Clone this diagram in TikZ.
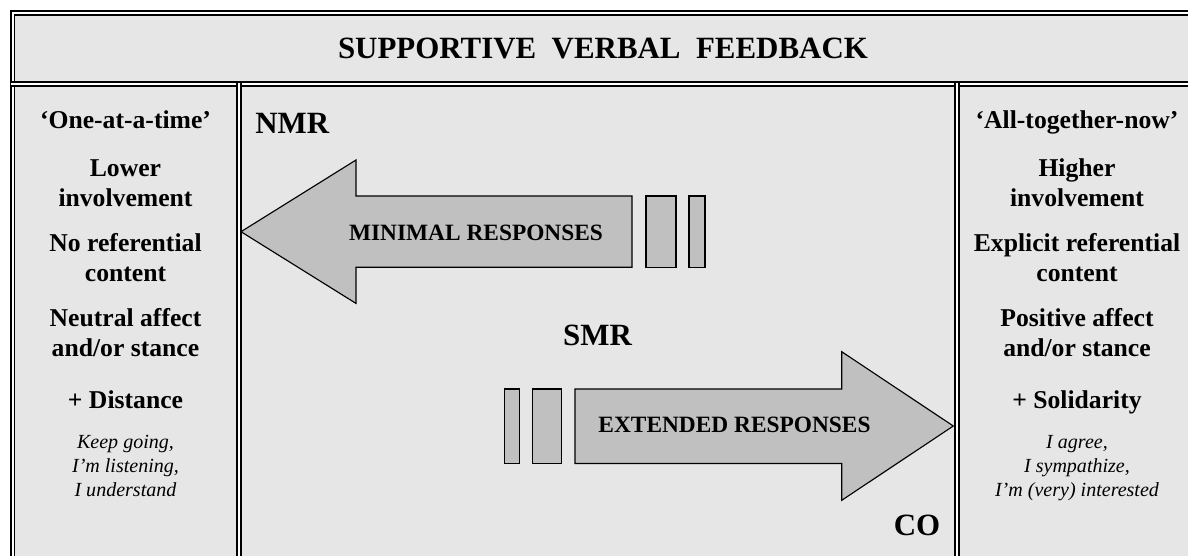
\documentclass[tikz,border=0pt]{standalone}
\usepackage{fontspec}
\setmainfont{Liberation Serif}
\usetikzlibrary{positioning}

\definecolor{panelgray}{HTML}{E6E6E6}
\definecolor{arrowgray}{HTML}{C0C0C0}

\begin{document}
\begin{tikzpicture}[
    frame/.style={draw=black, line width=0.04cm, double=white, double distance=0.04cm},
    heading/.style={inner sep=0pt, font=\fontsize{17.6}{21}\selectfont\bfseries},
    feature/.style={align=center, inner sep=0pt, anchor=base, font=\fontsize{14.6}{16.8}\selectfont\bfseries},
    example/.style={align=center, inner sep=0pt, anchor=base, font=\fontsize{11.4}{13.8}\selectfont\itshape},
    arrowshape/.style={draw=black, line width=0.65pt, fill=arrowgray, line join=miter},
    bar/.style={arrowshape, line width=0.9pt},
    arrowlabel/.style={inner sep=0pt, font=\fontsize{13.3}{16}\selectfont\bfseries}
]
\useasboundingbox (0,0) rectangle (23.76,-11.1);
\clip (0,0) rectangle (23.76,-11.1);

% Table
\fill[panelgray] (0.25,-0.25) rectangle (23.92,-11.3);
\draw[frame] (0.25,-0.25) rectangle (23.92,-11.3);
\draw[frame] (0.23,-1.676) -- (23.92,-1.676);
\draw[frame] (4.78,-1.656) -- (4.78,-11.3);
\draw[frame] (19.146,-1.656) -- (19.146,-11.3);

% Title
\node[heading] (title) at (12.06,-0.97) {SUPPORTIVE\ \ VERBAL\ \ FEEDBACK};

% Left column (base = last line)
\node[feature] (onetime) at (2.51,-2.56) {‘One-at-a-time’};
\node[feature] (lower) at (2.51,-4.13) {Lower\\involvement};
\node[feature] (noref) at (2.51,-5.63) {No referential\\content};
\node[feature] (neutral) at (2.51,-7.13) {Neutral affect\\and/or stance};
\node[feature] (distance) at (2.51,-8.16) {+ Distance};
\node[example] (keepgoing) at (2.51,-9.93) {Keep going,\\I’m listening,\\I understand};

% Right column
\node[feature] (alltogether) at (21.54,-2.56) {‘All-together-now’};
\node[feature] (higher) at (21.54,-4.13) {Higher\\involvement};
\node[feature] (explicit) at (21.54,-5.63) {Explicit referential\\content};
\node[feature] (positive) at (21.54,-7.13) {Positive affect\\and/or stance};
\node[feature] (solidarity) at (21.54,-8.16) {+ Solidarity};
\node[example] (iagree) at (21.54,-9.93) {I agree,\\I sympathize,\\I’m (very) interested};

% Middle column
\node[heading, anchor=base west] (nmr) at (5.1,-2.666) {NMR};
\node[heading, anchor=base] (smr) at (11.95,-6.9) {SMR};
\node[heading, anchor=base] (co) at (18.34,-10.7) {CO};

% Minimal responses
\draw[arrowshape] (4.82,-4.634) -- (7.12,-3.2) -- (7.12,-3.92) -- (12.64,-3.92)
    -- (12.64,-5.346) -- (7.12,-5.346) -- (7.12,-6.068) -- cycle;
\draw[bar] (12.914,-3.92) rectangle (13.52,-5.346);
\draw[bar] (13.78,-3.92) rectangle (14.094,-5.346);
\node[arrowlabel] (minimal) at (9.52,-4.66) {MINIMAL RESPONSES};

% Extended responses
\draw[arrowshape] (11.5,-7.78) -- (16.834,-7.78) -- (16.834,-7.034) -- (19.066,-8.52)
    -- (16.834,-10.006) -- (16.834,-9.27) -- (11.5,-9.27) -- cycle;
\draw[bar] (10.086,-7.78) rectangle (10.386,-9.27);
\draw[bar] (10.654,-7.78) rectangle (11.234,-9.27);
\node[arrowlabel] (extended) at (14.69,-8.5) {EXTENDED RESPONSES};

\end{tikzpicture}
\end{document}
